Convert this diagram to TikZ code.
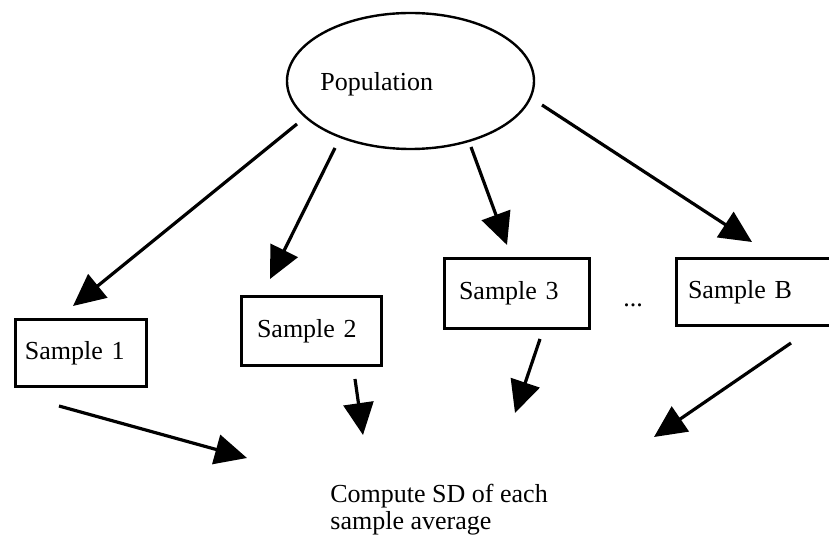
\documentclass[tikz,border=0pt]{standalone}
\usepackage{fontspec}
\setmainfont{Liberation Serif}
\usetikzlibrary{arrows.meta,shapes.geometric,calc}

\begin{document}
\begin{tikzpicture}[x=0.5bp,y=-0.5bp,>={Triangle[length=16bp,width=15bp]},
    font=\fontsize{13bp}{13.5bp}\selectfont,
    samplebox/.style={draw,line width=1.5bp,inner ysep=0pt,align=left},
    plain/.style={inner sep=0pt,anchor=base west},
    arrow/.style={->,line width=1.6bp}]
    \useasboundingbox (0,0) rectangle (829,537);

    % Population
    \node[ellipse,draw,line width=1.2bp,minimum width=123.5bp,minimum height=68bp] (pop) at (410.5,81) {};
    \node[plain] (poplabel) at (320,91) {Population};

    % Samples
    \node[samplebox,inner xsep=4.75bp,text width=56bp,minimum height=33.5bp] (s1) at (81,353) {Sample 1};
    \node[samplebox,inner xsep=7.75bp,text width=54.5bp,minimum height=34.5bp] (s2) at (311.5,331) {Sample 2};
    \node[samplebox,inner xsep=7.25bp,text width=58bp,minimum height=35bp] (s3) at (517,293.5) {Sample 3};
    \node[samplebox,inner xsep=5.75bp,text width=71.25bp,minimum height=33.5bp] (sB) at (759.25,292) {Sample B};
    \node[plain] (dots) at (623,307) {...};

    % Result (base is the last line)
    \node[plain,align=left] (sd) at (330,530) {Compute SD of each\\sample average};

    % Drawing the samples
    \draw[arrow] ($(pop.center)+(-113.5,43)$) -- ($(s1.north)+(-8,-12)$);
    \draw[arrow] ($(pop.center)+(-75.5,67)$) -- ($(s2.north)+(-41.5,-16)$);
    \draw[arrow] ($(pop.center)+(60.5,66)$) -- ($(s3.north)+(-10,-12)$);
    \draw[arrow] ($(pop.center)+(131.5,24)$) -- ($(sB.north west)+(77,-15)$);

    % Into the SD
    \draw[arrow] ($(s1.south)+(-22,18)$) -- ($(sd.base west)+(-83,-72)$);
    \draw[arrow] ($(s2.south)+(43.5,12)$) -- ($(sd.base west)+(33,-95)$);
    \draw[arrow] ($(s3.south)+(23,9)$) -- ($(sd.base west)+(185,-117)$);
    \draw[arrow] ($(sB.south west)+(116,16)$) -- ($(sd.base west)+(324,-93)$);
\end{tikzpicture}
\end{document}
